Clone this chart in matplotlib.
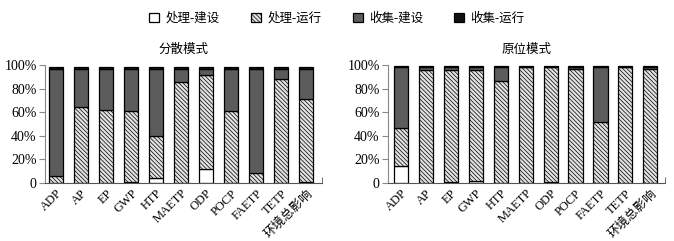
import matplotlib
matplotlib.use("Agg")
import matplotlib.pyplot as plt
import numpy as np

plt.rcParams['font.family'] = ['Liberation Serif', 'Noto Sans CJK SC']
plt.rcParams['hatch.color'] = '#8a8a8a'
plt.rcParams['hatch.linewidth'] = 0.5

categories = ['ADP', 'AP', 'EP', 'GWP', 'HTP', 'MAETP', 'ODP', 'POCP', 'FAETP', 'TETP', '环境总影响']
series_names = ['处理-建设', '处理-运行', '收集-建设', '收集-运行']

# 分散模式 (percent)
dec_proc_build = [0.3, 0.0, 0.0, 1.0, 4.2, 0.0, 12.0, 0.0, 0.0, 0.0, 1.0]
dec_proc_run   = [5.9, 64.8, 62.0, 60.4, 35.8, 86.0, 79.3, 61.4, 8.5, 88.5, 70.5]
dec_coll_build = [90.8, 32.2, 35.0, 35.6, 57.0, 11.0, 5.7, 35.6, 88.5, 8.5, 25.5]
dec_coll_run   = [1.0, 1.0, 1.0, 1.0, 1.0, 1.0, 1.0, 1.0, 1.0, 1.0, 1.0]

# 原位模式 (percent)
ins_proc_build = [14.6, 0.0, 1.0, 2.0, 0.0, 0.0, 1.0, 0.0, 0.0, 0.0, 0.0]
ins_proc_run   = [32.4, 95.8, 94.8, 93.8, 86.8, 98.3, 97.7, 96.3, 51.5, 98.3, 96.3]
ins_coll_build = [51.2, 2.4, 2.4, 2.4, 11.4, 0.0, 0.0, 1.9, 46.7, 0.0, 1.9]
ins_coll_run   = [0.6, 0.6, 0.6, 0.6, 0.6, 0.5, 0.5, 0.6, 0.6, 0.5, 0.6]

yticks = [0, 20, 40, 60, 80, 100]
ytick_labels = ['0', '20%', '40%', '60%', '80%', '100%']

styles = [
    dict(facecolor='white', hatch=None),
    dict(facecolor='#e2e2e2', hatch='\\\\\\\\\\\\\\\\'),
    dict(facecolor='#5c5c5c', hatch=None),
    dict(facecolor='#111111', hatch=None),
]

fig = plt.figure(figsize=(6.74, 2.41), dpi=100)
ax1 = fig.add_axes([45/674, 1-183/241, 277/674, 118/241])
ax2 = fig.add_axes([388/674, 1-183/241, 277/674, 118/241])

def draw(ax, data, title, xl):
    x = np.arange(len(categories))
    bottom = np.zeros(len(categories))
    handles = []
    for name, vals, st in zip(series_names, data, styles):
        v = np.array(vals)
        b = ax.bar(x, v, width=0.57, bottom=bottom, facecolor=st['facecolor'],
                   hatch=st['hatch'], edgecolor='black', linewidth=0.9, label=name)
        handles.append(b)
        bottom += v
    ax.set_ylim(0, 100)
    ax.set_xlim(*xl)
    ax.set_yticks(yticks)
    ax.set_yticklabels(ytick_labels, fontsize=10)
    ax.set_xticks(x)
    ax.set_xticklabels(categories, rotation=45, ha='right', rotation_mode='anchor', fontsize=9)
    ax.tick_params(axis='x', length=0, pad=3)
    ax.tick_params(axis='y', length=4, direction='out', color='#888888', pad=2)
    ax.set_xticks([xl[1]], minor=True)
    ax.tick_params(axis='x', which='minor', direction='in', length=4, color='#555555')
    for s in ['top', 'right']:
        ax.spines[s].set_visible(False)
    ax.spines['left'].set_color('#888888')
    ax.spines['bottom'].set_color('#555555')
    ax.set_title(title, fontsize=9, pad=9)
    return handles

h = draw(ax1, [dec_proc_build, dec_proc_run, dec_coll_build, dec_coll_run], '分散模式', (-0.45, 10.64))
draw(ax2, [ins_proc_build, ins_proc_run, ins_coll_build, ins_coll_run], '原位模式', (-0.53, 10.59))

fig.legend(h, series_names, loc='upper center', bbox_to_anchor=(0.5, 0.995), ncol=4,
           frameon=False, fontsize=9, handlelength=0.8, handleheight=0.8,
           handletextpad=0.5, columnspacing=2.5)

fig.savefig('out.png', dpi=100)
